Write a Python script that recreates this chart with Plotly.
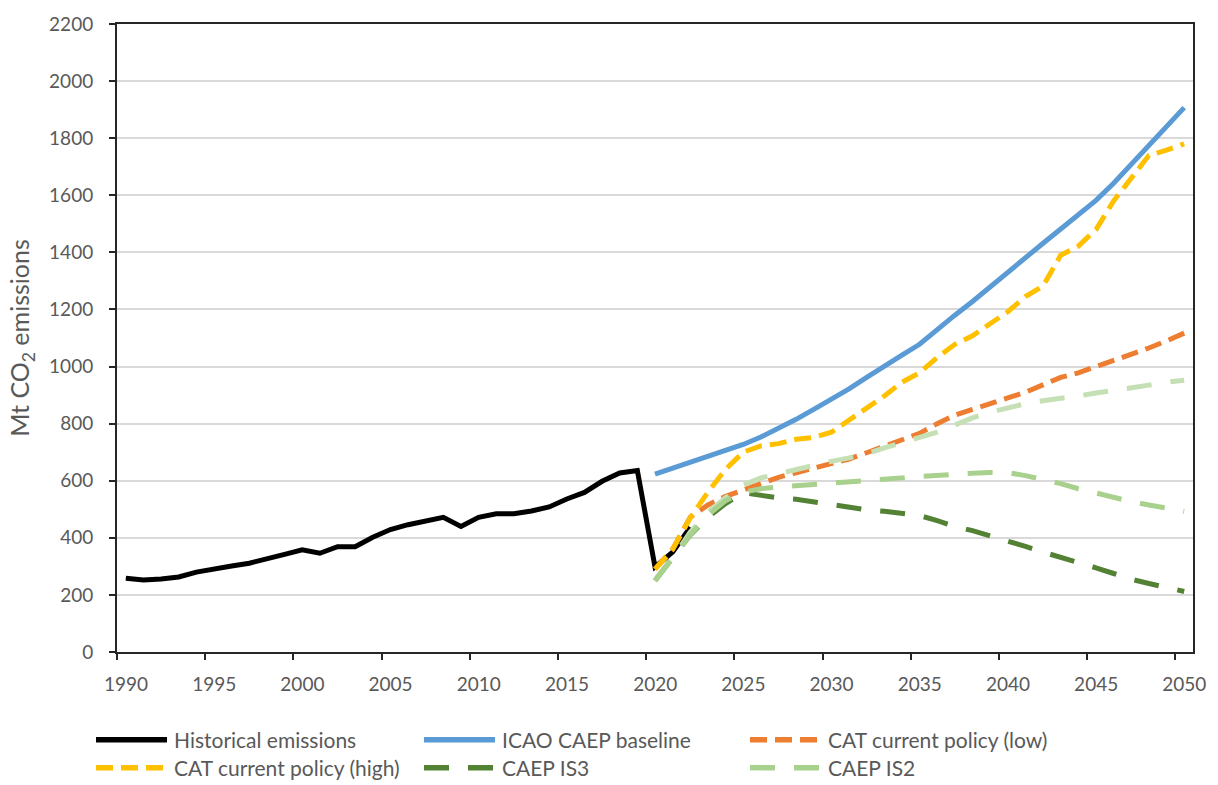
import plotly.graph_objects as go

# ---------------------------------------------------------------- data
hist_years = list(range(1990, 2023))
hist_vals = [258, 252, 256, 263, 280, 292, 301, 311, 325, 342,
             358, 346, 369, 369, 402, 429, 446, 459, 472, 440,
             472, 484, 484, 494, 508, 536, 559, 598, 627, 636,
             298, 350, 437]

proj_years = list(range(2020, 2051))
icao_baseline = [623, 644, 664, 684, 704, 727, 753, 782, 815, 850,
                 885, 922, 962, 1003, 1040, 1078, 1130, 1180, 1228, 1280,
                 1330, 1382, 1432, 1482, 1532, 1582, 1642, 1708, 1775, 1842, 1907]
cat_low = [290, 360, 472, 515, 545, 568, 592, 612, 628, 643,
           660, 676, 698, 720, 745, 766, 800, 830, 850, 872,
           890, 910, 935, 962, 978, 1000, 1020, 1040, 1065, 1090, 1117]
cat_high = [290, 360, 470, 560, 640, 700, 722, 730, 745, 752,
            770, 812, 852, 897, 945, 978, 1032, 1078, 1108, 1148,
            1192, 1245, 1282, 1390, 1422, 1480, 1580, 1660, 1740, 1758, 1780]
caep_is3 = [250, 330, 410, 472, 520, 558, 548, 540, 535, 525,
            515, 505, 498, 493, 487, 478, 460, 440, 425, 408,
            390, 370, 350, 333, 313, 295, 275, 255, 240, 225, 212]
caep_is1 = [250, 330, 420, 490, 540, 585, 610, 625, 640, 655,
            668, 680, 695, 715, 732, 750, 770, 795, 820, 840,
            855, 870, 880, 887, 897, 907, 915, 925, 935, 945, 952]
caep_is2 = [250, 330, 410, 480, 530, 560, 572, 578, 582, 588,
            592, 597, 602, 606, 610, 615, 620, 623, 626, 629,
            628, 618, 605, 590, 572, 557, 540, 527, 515, 505, 493]

tick_years = list(range(1990, 2051, 5))
y_ticks = list(range(0, 2201, 200))

# ---------------------------------------------------------------- styles
FONT = "Lato"
GREY = "#595959"
AXIS = "#262626"
SHORT_DASH = "17px,8px"
LONG_DASH = "25px,19px"
series = [
    # name, x, y, colour, dash, in legend
    ("Historical emissions", hist_years, hist_vals, "#000000", "solid", True),
    ("ICAO CAEP baseline", proj_years, icao_baseline, "#5b9bd5", "solid", True),
    ("CAT current policy (low)", proj_years, cat_low, "#ed7d31", SHORT_DASH, True),
    ("CAT current policy (high)", proj_years, cat_high, "#ffc000", SHORT_DASH, True),
    ("CAEP IS3", proj_years, caep_is3, "#548235", LONG_DASH, True),
    ("CAEP IS1", proj_years, caep_is1, "#c5e0b4", LONG_DASH, False),
    ("CAEP IS2", proj_years, caep_is2, "#a9d18e", LONG_DASH, True),
]

fig = go.Figure()
for name, xs, ys, col, dash, _ in series:
    fig.add_trace(go.Scatter(
        x=xs, y=ys, mode="lines", name=name, showlegend=False,
        line=dict(color=col, width=5, dash=dash),
    ))

# Category-style axis: each year sits in the middle of its slot,
# tick marks fall on the slot boundaries.
fig.update_xaxes(
    range=[tick_years[0] - 0.5, proj_years[-1] + 0.5],
    tickmode="array",
    tickvals=[y - 0.5 for y in tick_years],
    ticktext=[str(y) for y in tick_years],
    ticks="outside", ticklen=6, tickwidth=1.5, tickcolor=AXIS,
    ticklabelshift=9, ticklabelstandoff=8,
    showgrid=False, zeroline=False,
    showline=True, linecolor=AXIS, linewidth=2, mirror=True,
    tickfont=dict(family=FONT, size=19, color=GREY),
)
fig.update_yaxes(
    range=[0, 2200],
    tickmode="array", tickvals=y_ticks,
    ticks="outside", ticklen=6, tickwidth=1.5, tickcolor=AXIS,
    ticklabelstandoff=12,
    showgrid=True, gridcolor="#d9d9d9", gridwidth=1.5,
    zeroline=False,
    showline=True, linecolor=AXIS, linewidth=2, mirror=True,
    tickfont=dict(family=FONT, size=19, color=GREY),
    title=dict(text="Mt CO<sub>2</sub> emissions",
               font=dict(family=FONT, size=25, color=GREY), standoff=12),
)

# ---------------------------------------------------------------- legend
PLOT_L, PLOT_R, PLOT_T, PLOT_B = 117, 1193, 20, 652.5


def px_x(px):
    return (px - PLOT_L) / (PLOT_R - PLOT_L)


def px_y(py):
    return (PLOT_B - py) / (PLOT_B - PLOT_T)


col_starts = [96, 424, 750]
row_ys = [741, 769]
legend_items = [s for s in series if s[5]]
for i, (name, _, _, col, dash, _) in enumerate(legend_items):
    cx = col_starts[i % 3]
    cy = row_ys[i // 3]
    fig.add_shape(type="line", xref="paper", yref="paper",
                  x0=px_x(cx), x1=px_x(cx + 71), y0=px_y(cy), y1=px_y(cy),
                  line=dict(color=col, width=5.5, dash=dash))
    fig.add_annotation(xref="paper", yref="paper", x=px_x(cx + 76), y=px_y(cy),
                       text=name, showarrow=False, xanchor="left", yanchor="middle",
                       font=dict(family=FONT, size=21, color=GREY))

fig.update_layout(
    width=1218, height=785,
    margin=dict(l=PLOT_L, r=1218 - PLOT_R, t=PLOT_T, b=785 - PLOT_B),
    paper_bgcolor="white", plot_bgcolor="white",
    showlegend=False,
)

fig.write_html("out.html")
